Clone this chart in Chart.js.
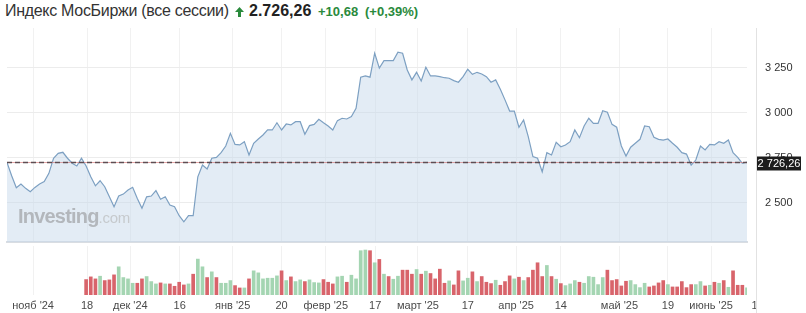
<!DOCTYPE html>
<html lang="ru">
<head>
<meta charset="UTF-8">
<title>Индекс МосБиржи (все сессии)</title>
<script src="https://cdn.jsdelivr.net/npm/chart.js"></script>
<style>
  body { margin: 0; background: #fff; font-family: "Liberation Sans", Arial, sans-serif; }
  #wrap { position: relative; width: 806px; height: 313px; overflow: hidden; }
  .t { position: absolute; top: 2px; white-space: nowrap; font-size: 16px; color: #333; }
  .chg { font-size: 13px; font-weight: bold; color: #2a8a3c; top: 4px; }
  #priceChart, #volChart { position: absolute; left: 0; }
  #priceChart { top: 0; }
  #volChart { top: 244px; }
  #sep { position: absolute; left: 756px; top: 28px; width: 1px; height: 285px; background: #e2e2e2; }
  #wm { position: absolute; left: 18px; top: 205px; color: #b3b7bc; white-space: nowrap; }
  #wm b { font-size: 20px; letter-spacing: -0.8px; }
  #wm span { font-size: 15px; color: #c6cacd; letter-spacing: -0.3px; }
</style>
</head>
<body>
<div id="wrap">
  <div class="t" style="left:5px;letter-spacing:-0.3px">Индекс МосБиржи (все сессии)</div>
  <svg style="position:absolute;left:235px;top:7px" width="9" height="10" viewBox="0 0 9 10">
    <polygon points="4.5,0 9,5 6,5 6,10 3,10 3,5 0,5" fill="#2a8a3c"/>
  </svg>
  <div class="t" id="lastTxt" style="left:249px;font-weight:bold;color:#222"></div>
  <div class="t chg" id="chgTxt" style="left:318px"></div>
  <div class="t chg" id="pctTxt" style="left:365px"></div>

  <canvas id="priceChart" width="806" height="244"></canvas>
  <canvas id="volChart" width="806" height="69"></canvas>
  <div id="wm"><b>Investing</b><span>.com</span></div>
  <div id="sep"></div>
</div>
<script>
// daily closes, one per trading session (late Oct 2024 .. mid June 2025)
const prices = [
  2724, 2650, 2583, 2604, 2580, 2561, 2585, 2604, 2617, 2663,
  2747, 2774, 2780, 2747, 2719, 2704, 2747, 2704, 2644, 2594,
  2622, 2589, 2533, 2478, 2537, 2548, 2571, 2586, 2524, 2469,
  2533, 2537, 2567, 2519, 2533, 2487, 2478, 2428, 2394, 2428,
  2428, 2644, 2709, 2687, 2747, 2752, 2778, 2815, 2885, 2824,
  2821, 2839, 2765, 2830, 2854, 2876, 2904,
  2904, 2944, 2904, 2937, 2932, 2950, 2950, 2880, 2928, 2935,
  2963, 2944, 2926, 2904, 2956, 2969, 2965, 2978, 3024, 3197,
  3204, 3197, 3330, 3247, 3289, 3289, 3289, 3336, 3330, 3237,
  3182, 3224, 3176, 3252, 3204, 3204, 3200, 3194, 3191, 3178,
  3169, 3200, 3241, 3213, 3224, 3215, 3200, 3169, 3182, 3130,
  3071, 3009, 3009, 2919, 2959, 2867,
  2756, 2747, 2672, 2778, 2765, 2835, 2811, 2820, 2839, 2904,
  2861, 2926, 2969, 2941, 2941, 3011, 3002, 2935, 2919, 2815,
  2759, 2808, 2830, 2852, 2926, 2922, 2863, 2852, 2848, 2854,
  2830, 2808, 2778, 2770, 2709, 2737, 2815, 2793, 2824, 2821,
  2839, 2830, 2848, 2778, 2752, 2719, 2726.26
];
const lastPrice = 2726.26;
const change = 10.68;
const changePct = 0.39;

// volume starts at session index 18 Nov (no volume before)
const volStart = 17;
const volumes = [
  46, 54, 48, 56, 43, 45, 60, 84, 52, 48,
  35, 35, 48, 55, 40, 33, 36, 33, 33, 26,
  38, 30, 33, 62, 107, 84, 52, 69, 52, 35,
  35, 43, 28, 21, 21, 48, 72, 66, 48, 50,
  50, 57, 72, 43, 54, 40, 45, 40, 45, 37,
  36, 46, 38, 33, 54, 56, 38, 59, 48, 132,
  134, 132, 96, 106, 62, 55, 47, 56, 74, 74,
  62, 76, 62, 71, 64, 48, 77, 35, 42, 30,
  72, 42, 50, 69, 40, 55, 38, 34, 44, 29,
  40, 57, 48, 53, 43, 52, 74, 96, 55, 88,
  55, 47, 34, 28, 33, 43, 38, 35, 55, 53,
  31, 52, 74, 43, 46, 27, 41, 43, 31, 22,
  35, 24, 27, 36, 43, 31, 24, 24, 40, 22,
  31, 31, 40, 27, 29, 38, 35, 43, 23, 72,
  29, 29, 21
];
// g = up session, r = down session
const volDir =
  'rrrgrrrggg' + 'grrgggrgrr' + 'rrgrggrgrg' + 'ggrrgrgggg' + 'ggrgrggrgg' +
  'grrrggrggg' + 'grgrgrggrr' + 'rgrgrrrrgr' + 'rggrgrrrgr' + 'rrgrgrrrrg' +
  'rgrgggrggg' + 'ggrrrrrggg' + 'grrrrgrrrr' + 'rggrgrgrgr' + 'rrg';

// x tick positions (session index) and labels
const xTickPos = [5.6, 17.2, 26.5, 37.1, 48.5, 59, 68.5, 79.1, 88.3, 99, 109.4, 119, 131.6, 142, 151.3, 161.3];
const xTickText = ["нояб '24", '18', "дек '24", '16', "янв '25", '20', "февр '25", '17', "март '25", '17', "апр '25", '14', "май '25", '19', "июнь '25", '16'];
const yTicks = [2500, 2750, 3000, 3250];

const fmtSpace = v => String(v).replace(/\B(?=(\d{3})+(?!\d))/g, ' ');
const fmtComma = v => v.toFixed(2).replace('.', ',');

document.getElementById('lastTxt').textContent =
  lastPrice.toFixed(2).replace('.', ',').replace(/\B(?=(\d{3})+(?!\d))/, '.');
document.getElementById('chgTxt').textContent = '+' + fmtComma(change);
document.getElementById('pctTxt').textContent = '(+' + fmtComma(changePct) + '%)';

Chart.defaults.font.family = '"Liberation Sans", Arial, sans-serif';

const lastLine = {
  id: 'lastLine',
  afterDatasetsDraw(chart) {
    const ctx = chart.ctx, a = chart.chartArea;
    const y = Math.round(chart.scales.y.getPixelForValue(lastPrice)) + 0.5;
    ctx.save();
    ctx.strokeStyle = 'rgba(214,110,110,0.6)';
    ctx.lineWidth = 1;
    ctx.beginPath(); ctx.moveTo(a.left, y); ctx.lineTo(a.right, y); ctx.stroke();
    ctx.strokeStyle = '#5e4d52';
    ctx.lineWidth = 1.5;
    ctx.setLineDash([5, 3]);
    ctx.beginPath(); ctx.moveTo(a.left, y); ctx.lineTo(a.right, y); ctx.stroke();
    ctx.setLineDash([]);
    ctx.fillStyle = '#1c1c1c';
    ctx.fillRect(757, y - 6, 44, 14);
    ctx.fillStyle = '#fff';
    ctx.font = '11px "Liberation Sans", Arial, sans-serif';
    ctx.textAlign = 'center';
    ctx.textBaseline = 'middle';
    ctx.fillText(fmtSpace(Math.floor(lastPrice)) + ',' + fmtComma(lastPrice).split(',')[1], 779, y + 1.5);
    ctx.restore();
  }
};

new Chart(document.getElementById('priceChart'), {
  type: 'line',
  data: {
    datasets: [{
      data: prices.map((p, i) => ({ x: i, y: p })),
      borderColor: '#7da0c2',
      borderWidth: 1.2,
      backgroundColor: 'rgba(196,216,235,0.48)',
      fill: 'start',
      pointRadius: 0,
      tension: 0
    }]
  },
  options: {
    responsive: false,
    animation: false,
    events: [],
    layout: { padding: { left: 7, top: 28, bottom: 2, right: 0 } },
    plugins: { legend: { display: false }, tooltip: { enabled: false } },
    scales: {
      x: {
        type: 'linear', min: 0, max: prices.length - 1,
        afterBuildTicks: s => { s.ticks = xTickPos.filter(v => v <= prices.length - 1).map(v => ({ value: v })); },
        afterFit: s => { s.height = 0; },
        ticks: { display: false },
        grid: { color: '#f1f1f1', drawTicks: false },
        border: { display: true, color: '#d9dde2', width: 2 }
      },
      y: {
        position: 'right', min: 2282, max: 3470,
        afterBuildTicks: s => { s.ticks = yTicks.map(v => ({ value: v })); },
        afterFit: s => { s.width = 59; s.paddingTop = 0; s.paddingBottom = 0; },
        ticks: { padding: 18, color: '#333', font: { size: 11 }, callback: v => fmtSpace(v) },
        grid: { color: '#ececec', drawTicks: false },
        border: { display: false }
      }
    }
  },
  plugins: [lastLine]
});

const clipRight = {
  id: 'clipRight',
  afterDraw(chart) {
    const ctx = chart.ctx;
    ctx.save();
    ctx.fillStyle = '#fff';
    ctx.fillRect(757, 0, chart.width - 757, chart.height);
    ctx.restore();
  }
};

new Chart(document.getElementById('volChart'), {
  type: 'bar',
  data: {
    datasets: [{
      data: volumes.map((v, i) => ({ x: volStart + i, y: v })),
      backgroundColor: volDir.split('').map(d => d === 'g' ? '#a4d5b2' : '#d8646b'),
      barThickness: 3
    }]
  },
  options: {
    responsive: false,
    animation: false,
    events: [],
    layout: { padding: { left: 7, right: 59, top: 2, bottom: 1 } },
    plugins: { legend: { display: false }, tooltip: { enabled: false } },
    scales: {
      x: {
        type: 'linear', min: 0, max: prices.length - 1, offset: false,
        afterBuildTicks: s => { s.ticks = xTickPos.map(v => ({ value: v })); },
        afterFit: s => { s.height = 17; s.paddingTop = 0; s.paddingBottom = 0; },
        ticks: { padding: 4, color: '#4a4a4a', font: { size: 11 }, maxRotation: 0, autoSkip: false,
                 callback: (v, i) => xTickText[i] },
        grid: { color: '#f1f1f1', drawTicks: false, offset: false },
        border: { display: false }
      },
      y: { display: false, min: 0, max: 146 }
    }
  },
  plugins: [clipRight]
});
</script>
</body>
</html>
